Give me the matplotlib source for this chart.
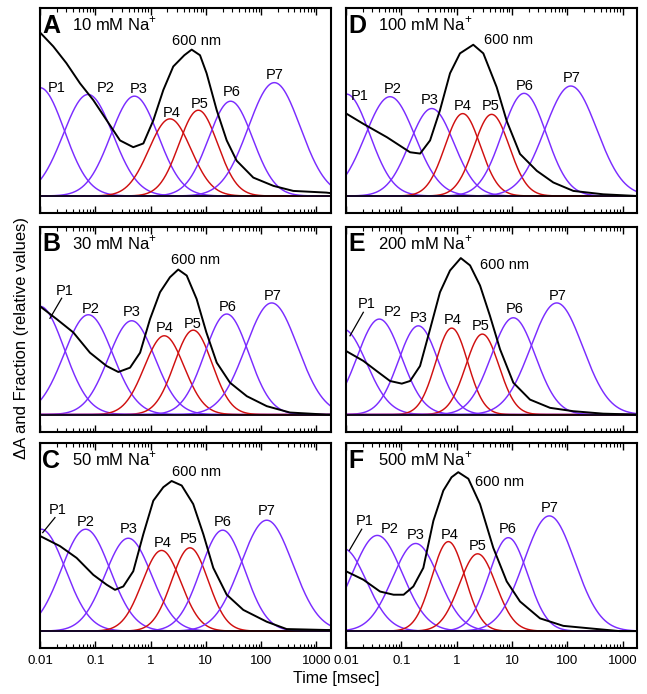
import numpy as np
import matplotlib
matplotlib.use('Agg')
import matplotlib.pyplot as plt

# panels and conditions
panel_letters = ["A", "B", "C", "D", "E", "F"]
na_mM = [10, 30, 50, 100, 200, 500]
peak_names = ["P1", "P2", "P3", "P4", "P5", "P6", "P7"]

# peak time (msec), relative height and width (decades) of each P component
peak_ms = [
    [0.010, 0.074, 0.51, 2.24, 7.3, 28.0, 173.0],
    [0.010, 0.075, 0.455, 1.77, 5.9, 23.8, 155.0],
    [0.0105, 0.067, 0.395, 1.58, 5.15, 20.1, 126.0],
    [0.0102, 0.0625, 0.355, 1.29, 4.3, 16.6, 116.0],
    [0.0089, 0.040, 0.203, 0.815, 2.92, 10.6, 64.6],
    [0.0089, 0.0368, 0.182, 0.71, 2.4, 8.6, 47.5],
]
peak_height = [
    [0.577, 0.541, 0.532, 0.411, 0.457, 0.505, 0.604],
    [0.577, 0.532, 0.500, 0.420, 0.450, 0.536, 0.595],
    [0.543, 0.543, 0.495, 0.430, 0.444, 0.538, 0.591],
    [0.543, 0.529, 0.466, 0.439, 0.435, 0.547, 0.586],
    [0.455, 0.509, 0.473, 0.461, 0.429, 0.516, 0.595],
    [0.440, 0.510, 0.467, 0.477, 0.412, 0.498, 0.614],
]
peak_width = [
    [0.44, 0.45, 0.43, 0.38, 0.35, 0.40, 0.47],
    [0.44, 0.44, 0.42, 0.36, 0.34, 0.40, 0.47],
    [0.44, 0.44, 0.42, 0.35, 0.33, 0.40, 0.47],
    [0.42, 0.45, 0.40, 0.32, 0.32, 0.40, 0.47],
    [0.42, 0.40, 0.36, 0.29, 0.30, 0.40, 0.47],
    [0.42, 0.45, 0.42, 0.30, 0.33, 0.35, 0.46],
]

# 600 nm absorbance trace (time in msec, relative dA)
trace_ms = [
    [0.0102, 0.0174, 0.030, 0.053, 0.092, 0.161, 0.28, 0.486, 0.74, 1.12, 1.70, 2.57,
     4.07, 5.53, 7.83, 10.3, 15.7, 23.8, 36.0, 72.0, 166.0, 380.0, 1510.0, 1820.0],
    [0.010, 0.020, 0.040, 0.080, 0.160, 0.261, 0.425, 0.646, 0.977, 1.48, 2.24, 3.16,
     4.5, 6.8, 10.2, 15.7, 27.3, 55.0, 126.0, 331.0, 1510.0, 1820.0],
    [0.010, 0.023, 0.046, 0.092, 0.161, 0.227, 0.321, 0.486, 0.738, 1.12, 1.70, 2.40,
     3.65, 5.9, 9.0, 13.6, 23.8, 47.5, 126.0, 288.0, 1510.0, 1820.0],
    [0.010, 0.0204, 0.055, 0.144, 0.219, 0.331, 0.50, 0.76, 1.15, 2.0, 3.04, 5.3,
     8.05, 14.0, 28.2, 56.0, 129.0, 447.0, 1820.0],
    [0.010, 0.0206, 0.0359, 0.0625, 0.102, 0.144, 0.218, 0.331, 0.50, 0.76, 1.19, 1.75,
     2.65, 4.0, 6.1, 10.6, 21.2, 48.9, 129.0, 447.0, 1820.0],
    [0.010, 0.0206, 0.0412, 0.0724, 0.110, 0.165, 0.25, 0.38, 0.575, 0.81, 1.07, 1.63,
     2.65, 4.6, 8.05, 14.0, 32.2, 85.0, 295.0, 890.0, 1820.0],
]
trace_dA = [
    [0.869, 0.797, 0.708, 0.600, 0.511, 0.403, 0.296, 0.260, 0.280, 0.403, 0.565, 0.690,
     0.750, 0.780, 0.750, 0.654, 0.457, 0.296, 0.188, 0.098, 0.054, 0.027, 0.018, 0.015],
    [0.577, 0.509, 0.438, 0.330, 0.259, 0.227, 0.250, 0.330, 0.509, 0.652, 0.732, 0.773,
     0.741, 0.616, 0.438, 0.277, 0.170, 0.098, 0.045, 0.011, 0.0, 0.0],
    [0.507, 0.453, 0.390, 0.300, 0.247, 0.220, 0.238, 0.319, 0.516, 0.695, 0.767, 0.800,
     0.776, 0.677, 0.516, 0.337, 0.194, 0.113, 0.050, 0.011, 0.006, 0.006],
    [0.440, 0.385, 0.313, 0.233, 0.226, 0.296, 0.457, 0.654, 0.760, 0.806, 0.760, 0.580,
     0.400, 0.224, 0.134, 0.072, 0.027, 0.009, 0.0],
    [0.339, 0.286, 0.232, 0.179, 0.165, 0.179, 0.259, 0.455, 0.652, 0.768, 0.834, 0.795,
     0.688, 0.527, 0.348, 0.170, 0.080, 0.036, 0.018, 0.005, 0.0],
    [0.319, 0.274, 0.211, 0.194, 0.194, 0.238, 0.337, 0.588, 0.749, 0.820, 0.847, 0.812,
     0.677, 0.444, 0.265, 0.158, 0.068, 0.028, 0.013, 0.0, 0.0],
]

# label placement (log10 msec, height): P1..P7 then "600 nm"
label_pos = [
    [(-1.70, 0.574), (-0.82, 0.574), (-0.22, 0.568), (0.38, 0.44), (0.88, 0.489), (1.467, 0.555), (2.25, 0.645), (0.834, 0.824)],
    [(-1.548, 0.661), (-1.083, 0.562), (-0.342, 0.545), (0.248, 0.459), (0.761, 0.482), (1.388, 0.575), (2.207, 0.634), (0.82, 0.825)],
    [(-1.687, 0.645), (-1.168, 0.582), (-0.403, 0.543), (0.212, 0.471), (0.682, 0.489), (1.303, 0.579), (2.10, 0.641), (0.834, 0.847)],
    [(-1.747, 0.534), (-1.156, 0.568), (-0.49, 0.511), (0.11, 0.478), (0.617, 0.478), (1.237, 0.586), (2.08, 0.627), (0.935, 0.83)],
    [(-1.626, 0.589), (-1.156, 0.548), (-0.68, 0.513), (-0.07, 0.505), (0.44, 0.473), (1.044, 0.562), (1.82, 0.63), (0.863, 0.795)],
    [(-1.656, 0.588), (-1.217, 0.543), (-0.74, 0.511), (-0.132, 0.513), (0.374, 0.453), (0.917, 0.543), (1.689, 0.656), (0.785, 0.794)],
]
# P1 leader lines (from, to) in (log10 msec, height)
leaders = [
    None,
    ((-1.608, 0.62), (-1.82, 0.513)),
    ((-1.729, 0.605), (-1.95, 0.525)),
    None,
    ((-1.687, 0.545), (-1.928, 0.42)),
    ((-1.716, 0.543), (-1.94, 0.43)),
]

purple = "#7b2cff"
red = "#d01010"
peak_colors = [purple, purple, purple, red, red, purple, purple]

plt.rcParams.update({
    "font.family": ["Liberation Sans", "DejaVu Sans"],
    "mathtext.fontset": "custom",
    "mathtext.rm": "Liberation Sans",
    "axes.linewidth": 1.5,
})

fig = plt.figure(figsize=(6.47, 6.94), dpi=100)
col_left = [0.0618, 0.5348]
row_bottom = [0.693, 0.378, 0.066]
w, h = 0.4498, 0.295

t = np.logspace(-2.5, 3.5, 600)
lt = np.log10(t)

for i, letter in enumerate(panel_letters):
    col, row = i // 3, i % 3
    ax = fig.add_axes([col_left[col], row_bottom[row], w, h])
    ax.set_xscale("log")
    ax.set_xlim(0.01, 1830)
    ax.set_ylim(-0.091, 1.0)

    for k in range(7):
        c = np.log10(peak_ms[i][k])
        y = peak_height[i][k] * np.exp(-(lt - c) ** 2 / (2 * peak_width[i][k] ** 2))
        ax.plot(t, y, color=peak_colors[k], lw=1.05, zorder=2)
    ax.axhline(0, color="black", lw=1.2, zorder=2.5)
    ax.plot(trace_ms[i], trace_dA[i], color="black", lw=1.4, zorder=3)

    for k, name in enumerate(peak_names + ["600 nm"]):
        lx, ly = label_pos[i][k]
        ax.text(10 ** lx, ly, name, fontsize=10.5, ha="center", va="center", zorder=4)
    if leaders[i] is not None:
        (x0, y0), (x1, y1) = leaders[i]
        ax.plot([10 ** x0, 10 ** x1], [y0, y1], color="black", lw=0.9, zorder=4)

    ax.text(0.008, 0.915, letter, transform=ax.transAxes, fontsize=18,
            fontweight="bold", ha="left", va="center")
    ax.text(0.11, 0.922, f"{na_mM[i]} mM Na$^{{+}}$", transform=ax.transAxes,
            fontsize=12, ha="left", va="center")

    ax.tick_params(axis="x", which="both", direction="in", top=True, bottom=True,
                   labelsize=9.5, pad=5)
    ax.tick_params(axis="x", which="major", length=5, width=1)
    ax.tick_params(axis="x", which="minor", length=3, width=0.8)
    ax.set_xticks([0.01, 0.1, 1, 10, 100, 1000])
    ax.set_xticklabels(["0.01", "0.1", "1", "10", "100", "1000"])
    ax.set_yticks([])
    if row != 2:
        ax.tick_params(axis="x", which="both", labelbottom=False)

fig.text(0.034, 0.513, "ΔA and Fraction (relative values)", rotation=90,
         fontsize=12, ha="center", va="center")
fig.text(0.52, 0.012, "Time [msec]", fontsize=11.5, ha="center", va="bottom")

fig.savefig("out.png", dpi=100)
